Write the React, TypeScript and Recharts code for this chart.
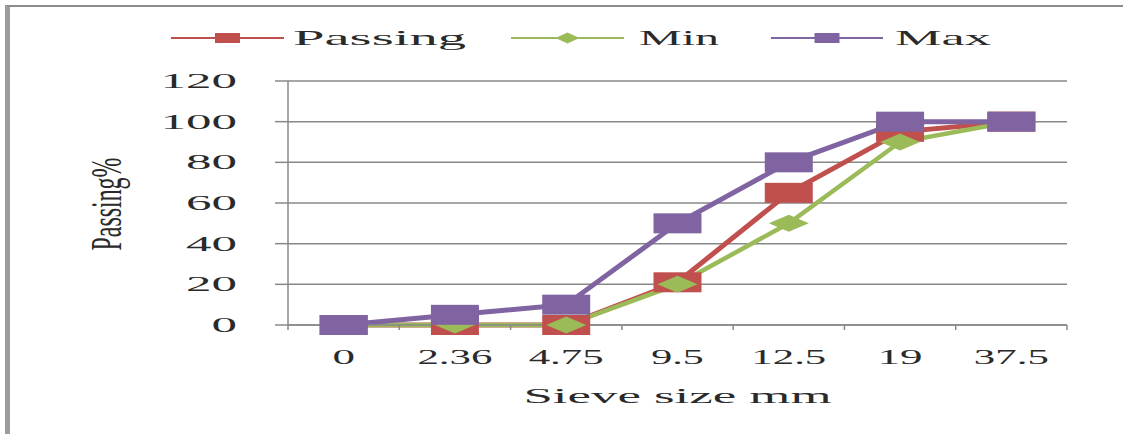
import React from 'react';
import { LineChart, Line, XAxis, YAxis, CartesianGrid, Legend } from 'recharts';

// Sieve analysis data (percent passing per sieve size)
const sieveSizes = ['0', '2.36', '4.75', '9.5', '12.5', '19', '37.5'];
const passing = [0, 0, 0, 21, 65, 95, 100];
const minLimit = [0, 0, 0, 20, 50, 90, 100];
const maxLimit = [0, 5, 10, 50, 80, 100, 100];
const yTicks = [0, 20, 40, 60, 80, 100, 120];

const data = sieveSizes.map((size, i) => ({
  size,
  passing: passing[i],
  min: minLimit[i],
  max: maxLimit[i],
}));

const RED = '#C0504D';
const GREEN = '#9BBB59';
const PURPLE = '#8064A2';
const AXIS = '#888888';
const TEXT = '#2a2a2a';
const FONT = '"Liberation Serif", "DejaVu Serif", serif';

const W = 1123;
const H = 434;
const PLOT_LEFT = 288;
const PLOT_RIGHT = 1067;
const PLOT_TOP = 81;
const PLOT_BOTTOM = 325;
const Y_AXIS_W = 60;
const X_AXIS_H = 30;
const BAND = (PLOT_RIGHT - PLOT_LEFT) / sieveSizes.length;

// Width of a numeric label in the wide face used for axis text
const labelWidth = (s: string, digit: number, dot: number) =>
  s.split('').reduce((w, ch) => w + (ch === '.' ? dot : digit), 0);

// Legend entry placement, keyed by series
const LEGEND_LAYOUT: Record<string, { x1: number; x2: number; textX: number; textW: number }> = {
  passing: { x1: 171, x2: 284, textX: 293, textW: 173 },
  min: { x1: 511, x2: 624, textX: 639, textW: 80 },
  max: { x1: 771, x2: 883, textX: 895, textW: 96 },
};

const squareDot = (color: string) => (props: any) => {
  const { cx, cy, index } = props;
  if (cx == null || cy == null) return <g key={`s-${index}`} />;
  return <rect key={`s-${index}`} x={cx - 24} y={cy - 10} width={48} height={20} fill={color} />;
};

const diamondDot = (color: string) => (props: any) => {
  const { cx, cy, index } = props;
  if (cx == null || cy == null) return <g key={`d-${index}`} />;
  const pts = `${cx - 20},${cy} ${cx},${cy - 8.5} ${cx + 20},${cy} ${cx},${cy + 8.5}`;
  return <polygon key={`d-${index}`} points={pts} fill={color} />;
};

const XTick = (props: any) => {
  const { x, y, payload, index } = props;
  const last = index === sieveSizes.length - 1;
  const s = String(payload.value);
  return (
    <g>
      <line x1={x - BAND / 2} x2={x - BAND / 2} y1={y} y2={y + 5} stroke={AXIS} strokeWidth={1.5} />
      {last && <line x1={x + BAND / 2} x2={x + BAND / 2} y1={y} y2={y + 5} stroke={AXIS} strokeWidth={1.5} />}
      <text
        x={x}
        y={y + 39}
        textAnchor="middle"
        fontFamily={FONT}
        fontSize={20}
        fill={TEXT}
        textLength={labelWidth(s, 22.5, 7.5)}
        lengthAdjust="spacingAndGlyphs"
      >
        {s}
      </text>
    </g>
  );
};

const YTick = (props: any) => {
  const { x, y, payload } = props;
  const s = String(payload.value);
  return (
    <text
      x={x - 38}
      y={y + 7}
      textAnchor="end"
      fontFamily={FONT}
      fontSize={20}
      fill={TEXT}
      textLength={labelWidth(s, 25.5, 8)}
      lengthAdjust="spacingAndGlyphs"
    >
      {s}
    </text>
  );
};

const YLabel = (props: any) => {
  const vb = props.viewBox || { x: 0, y: PLOT_TOP, height: PLOT_BOTTOM - PLOT_TOP };
  const cy = vb.y + vb.height / 2;
  return (
    <text
      x={0}
      y={0}
      transform={`translate(121, ${cy + 1}) rotate(-90)`}
      textAnchor="middle"
      fontFamily={FONT}
      fontSize={44}
      fill={TEXT}
      textLength={93}
      lengthAdjust="spacingAndGlyphs"
    >
      Passing%
    </text>
  );
};

const XLabel = (props: any) => {
  const vb = props.viewBox || { x: PLOT_LEFT, width: PLOT_RIGHT - PLOT_LEFT };
  const cx = vb.x + vb.width / 2;
  return (
    <text
      x={cx}
      y={403}
      textAnchor="middle"
      fontFamily={FONT}
      fontSize={20}
      fill={TEXT}
      textLength={308}
      lengthAdjust="spacingAndGlyphs"
    >
      Sieve size mm
    </text>
  );
};

const renderLegend = (props: any) => {
  const items = props.payload || [];
  return (
    <svg width={W} height={70} style={{ display: 'block' }}>
      {items.map((item: any) => {
        const key = String(item.dataKey);
        const L = LEGEND_LAYOUT[key];
        if (!L) return null;
        const cx = (L.x1 + L.x2) / 2;
        const cy = 38;
        const color = item.color;
        return (
          <g key={key}>
            <line x1={L.x1} x2={L.x2} y1={cy} y2={cy} stroke={color} strokeWidth={2} />
            {key === 'min' ? (
              <polygon
                points={`${cx - 12},${cy} ${cx},${cy - 5.5} ${cx + 12},${cy} ${cx},${cy + 5.5}`}
                fill={color}
              />
            ) : (
              <rect x={cx - 12.5} y={cy - 5} width={25} height={10} fill={color} />
            )}
            <text
              x={L.textX}
              y={45}
              fontFamily={FONT}
              fontSize={21}
              fill={TEXT}
              textLength={L.textW}
              lengthAdjust="spacingAndGlyphs"
            >
              {item.value}
            </text>
          </g>
        );
      })}
    </svg>
  );
};

export default function App() {
  return (
    <div style={{ position: 'absolute', left: 0, top: 0, width: W, height: H, background: '#fff', overflow: 'hidden' }}>
      <div
        style={{
          position: 'absolute',
          left: 5,
          top: 5,
          width: W + 20,
          height: H + 20,
          borderTop: '2px solid #8c8c8c',
          borderLeft: '5px solid #9c9c9c',
        }}
      />
      <div style={{ position: 'absolute', left: 0, top: 0 }}>
        <LineChart
          width={W}
          height={H}
          data={data}
          margin={{
            top: PLOT_TOP,
            right: W - PLOT_RIGHT,
            left: PLOT_LEFT - Y_AXIS_W,
            bottom: H - PLOT_BOTTOM - X_AXIS_H,
          }}
        >
          <CartesianGrid horizontal vertical={false} stroke={AXIS} strokeWidth={1.5} />
          <XAxis
            dataKey="size"
            height={X_AXIS_H}
            padding={{ left: BAND / 2, right: BAND / 2 }}
            axisLine={{ stroke: AXIS, strokeWidth: 1.5 }}
            tickLine={false}
            tickSize={0}
            tickMargin={0}
            tick={<XTick />}
            interval={0}
            label={<XLabel />}
          />
          <YAxis
            width={Y_AXIS_W}
            domain={[0, 120]}
            ticks={yTicks}
            interval={0}
            axisLine={{ stroke: AXIS, strokeWidth: 1.5 }}
            tickLine={{ stroke: AXIS, strokeWidth: 1.5 }}
            tickSize={13}
            tickMargin={0}
            tick={<YTick />}
            label={<YLabel />}
          />
          <Legend
            layout="horizontal"
            verticalAlign="middle"
            align="center"
            content={renderLegend}
            wrapperStyle={{ position: 'absolute', top: 0, left: 0, width: W, height: 70, margin: 0, padding: 0 }}
          />
          <Line
            type="linear"
            dataKey="passing"
            name="Passing"
            stroke={RED}
            strokeWidth={5}
            dot={squareDot(RED)}
            activeDot={false}
            isAnimationActive={false}
          />
          <Line
            type="linear"
            dataKey="min"
            name="Min"
            stroke={GREEN}
            strokeWidth={4.5}
            dot={diamondDot(GREEN)}
            activeDot={false}
            isAnimationActive={false}
          />
          <Line
            type="linear"
            dataKey="max"
            name="Max"
            stroke={PURPLE}
            strokeWidth={5}
            dot={squareDot(PURPLE)}
            activeDot={false}
            isAnimationActive={false}
          />
        </LineChart>
      </div>
    </div>
  );
}
